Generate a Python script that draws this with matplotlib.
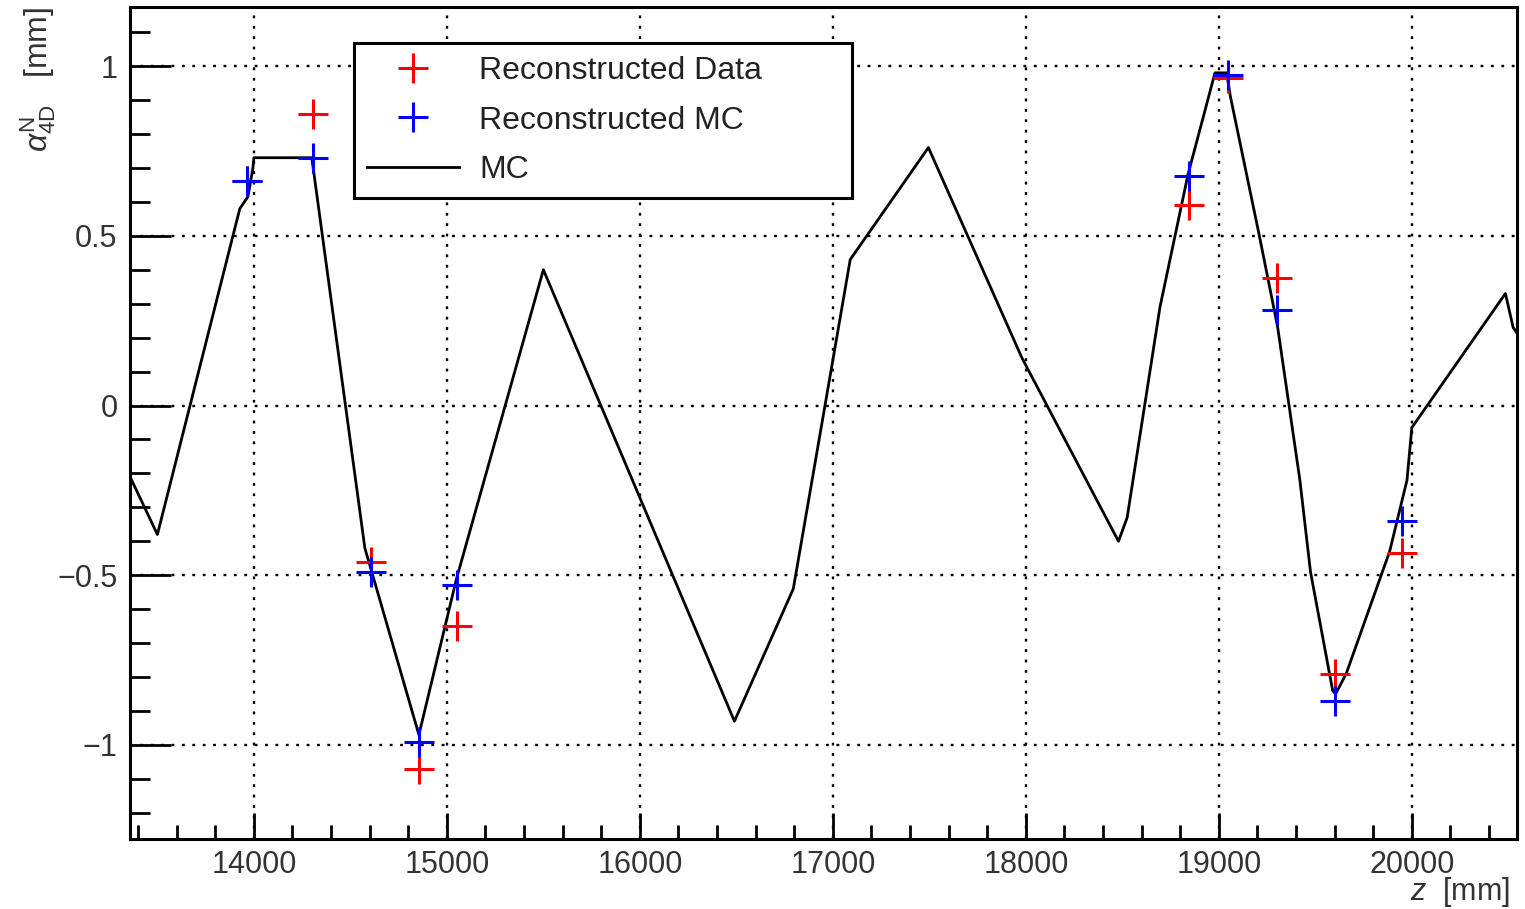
import numpy as np
import matplotlib
matplotlib.use("Agg")
import matplotlib.pyplot as plt
from matplotlib.ticker import MultipleLocator, FixedLocator, FixedFormatter

# MC truth curve (z in mm, alpha in mm)
mc_z = [13350, 13500, 13927, 13969, 13995, 14000, 14300, 14575, 14855, 15050,
        15500, 16490, 16795, 17090, 17495, 17980, 18480, 18525, 18695, 18840,
        18980, 19040, 19060, 19210, 19305, 19420, 19475, 19590, 19605, 19660,
        19885, 19975, 20000, 20485, 20525, 20560]
mc_alpha = [-0.20, -0.38, 0.58, 0.615, 0.70, 0.73, 0.73, -0.42, -0.97, -0.51,
            0.40, -0.93, -0.54, 0.43, 0.76, 0.14, -0.40, -0.33, 0.29, 0.68,
            0.98, 0.98, 0.91, 0.50, 0.23, -0.22, -0.49, -0.84, -0.85, -0.79,
            -0.43, -0.22, -0.065, 0.33, 0.23, 0.20]

# reconstructed points
reco_z = [13965, 14305, 14605, 14855, 15055, 18845, 19045, 19300, 19600, 19950]
data_alpha = [0.66, 0.86, -0.46, -1.07, -0.65, 0.59, 0.965, 0.375, -0.79, -0.435]
mcreco_alpha = [0.66, 0.73, -0.49, -0.99, -0.53, 0.675, 0.975, 0.28, -0.87, -0.34]

xtick_vals = [14000, 15000, 16000, 17000, 18000, 19000, 20000]
xtick_labels = ["14000", "15000", "16000", "17000", "18000", "19000", "20000"]
ytick_vals = [-1, -0.5, 0, 0.5, 1]
ytick_labels = ["\u22121", "\u22120.5", "0", "0.5", "1"]

plt.rcParams['font.family'] = ['Liberation Sans', 'DejaVu Sans']
plt.rcParams['mathtext.fontset'] = 'custom'
plt.rcParams['mathtext.rm'] = 'Liberation Sans'
plt.rcParams['mathtext.it'] = 'Liberation Sans:italic'

fig = plt.figure(figsize=(15.25, 9.09), dpi=100)
ax = fig.add_axes([130 / 1525, 70 / 909, 1387 / 1525, 832 / 909])

ax.plot(mc_z, mc_alpha, color='black', lw=2.0, label='MC', zorder=3)
ax.plot(reco_z, data_alpha, ls='none', marker='+', ms=21, mew=2.2,
        color='#ff0000', label='Reconstructed Data', zorder=4)
ax.plot(reco_z, mcreco_alpha, ls='none', marker='+', ms=21, mew=2.2,
        color='#0000ff', label='Reconstructed MC', zorder=5)

ax.set_xlim(13358, 20545)
ax.set_ylim(-1.277, 1.174)

ax.xaxis.set_major_locator(FixedLocator(xtick_vals))
ax.xaxis.set_major_formatter(FixedFormatter(xtick_labels))
ax.xaxis.set_minor_locator(MultipleLocator(200))
ax.yaxis.set_major_locator(FixedLocator(ytick_vals))
ax.yaxis.set_major_formatter(FixedFormatter(ytick_labels))
ax.yaxis.set_minor_locator(MultipleLocator(0.1))

ax.tick_params(axis='both', which='both', direction='in', colors='black',
               labelcolor='#333333', labelsize=22, width=2)
ax.tick_params(axis='y', which='major', length=29.5, pad=9)
ax.tick_params(axis='y', which='minor', length=14.5)
ax.tick_params(axis='x', which='major', length=18.5, pad=8)
ax.tick_params(axis='x', which='minor', length=10)

for sp in ax.spines.values():
    sp.set_linewidth(2.2)
    sp.set_color('black')

ax.grid(True, which='major', color='black', lw=1.7, ls=(0, (1.2, 3.2)))
ax.set_axisbelow(True)

ax.set_xlabel('$z$  [mm]', fontsize=22, color='#333333', loc='right')
ax.xaxis.set_label_coords(0.995, -0.043)
ax.set_ylabel(r'$\alpha^{\mathrm{N}}_{\mathrm{4D}}$   [mm]', fontsize=23,
              color='#333333', loc='top')
ax.yaxis.set_label_coords(-0.052, 1.0)

handles, labels = ax.get_legend_handles_labels()
order = [1, 2, 0]
leg = ax.legend([handles[i] for i in order], [labels[i] for i in order],
                loc='upper left', bbox_to_anchor=(0.1615, 0.9567, 0.359, 0.0),
                mode='expand', borderaxespad=0, fontsize=23, fancybox=False,
                framealpha=1, edgecolor='black', borderpad=0.4,
                labelspacing=0.62, handlelength=2.9, handletextpad=0.62,
                numpoints=1)
leg.get_frame().set_linewidth(2.2)
for t in leg.get_texts():
    t.set_color('#222222')

fig.savefig('out.png', dpi=100)
